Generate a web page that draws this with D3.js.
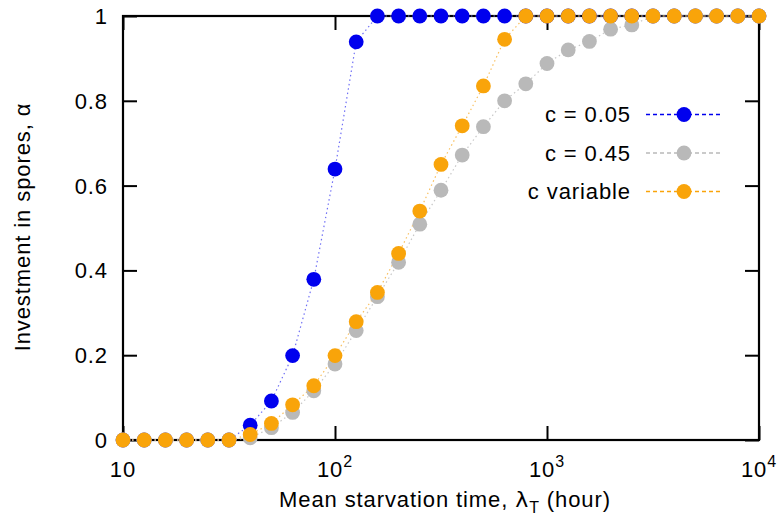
<!DOCTYPE html>
<html>
<head>
<meta charset="utf-8">
<script src="https://cdn.jsdelivr.net/npm/d3@7"></script>
<style>
  body { margin: 0; background: #fff; }
  text { font-family: "Liberation Sans", Arial, sans-serif; fill: #000; letter-spacing: 0.9px; }
</style>
</head>
<body>
<div id="chart"></div>
<script>
// exponent step k -> lambda = 10^(1 + k/10), k = 0..30
const steps = d3.range(0, 31);
const lambdas = steps.map(k => Math.pow(10, 1 + k / 10));

const alphaLow = [0, 0, 0, 0, 0, 0, 0.035, 0.092, 0.199, 0.379, 0.639, 0.939,
  1, 1, 1, 1, 1, 1, 1, 1, 1, 1, 1, 1, 1, 1, 1, 1, 1, 1, 1];
const alphaHigh = [0, 0, 0, 0, 0, 0, 0.005, 0.029, 0.065, 0.116, 0.179, 0.258,
  0.338, 0.419, 0.509, 0.589, 0.672, 0.739, 0.80, 0.84, 0.888, 0.92, 0.94,
  0.969, 0.979, 1, 1, 1, 1, 1, 1];
const alphaVar = [0, 0, 0, 0, 0, 0, 0.013, 0.039, 0.083, 0.128, 0.199, 0.279,
  0.348, 0.44, 0.54, 0.65, 0.741, 0.835, 0.945, 1, 1, 1, 1, 1, 1, 1, 1, 1, 1, 1, 1];

const seriesNames = ["c = 0.05", "c = 0.45", "c variable"];
const seriesColors = ["#0000ee", "#b9b9b9", "#f9a40a"];
const lineColors = ["#6f6ff5", "#c8c8c8", "#f9c060"];

const yTicks = [0, 0.2, 0.4, 0.6, 0.8, 1];
const xTicks = [10, 100, 1000, 10000];

const margin = {top: 16, right: 19, bottom: 82, left: 123};
const width = 778 - margin.left - margin.right,
      height = 522 - margin.top - margin.bottom;

const svg = d3.select("#chart").append("svg")
    .attr("width", 778).attr("height", 522)
  .append("g")
    .attr("transform", `translate(${margin.left},${margin.top})`);

const x = d3.scaleLog().domain([10, 10000]).range([0, width]);
const y = d3.scaleLinear().domain([0, 1]).range([height, 0]);

// ticks, pointing inward, on all four sides
const tickLen = 14;
svg.append("g").call(d3.axisLeft(y).tickValues(yTicks).tickSize(-tickLen).tickFormat(""))
  .call(g => g.select(".domain").remove());
svg.append("g").attr("transform", `translate(${width},0)`)
  .call(d3.axisRight(y).tickValues(yTicks).tickSize(-tickLen).tickFormat(""))
  .call(g => g.select(".domain").remove());
svg.append("g").attr("transform", `translate(0,${height})`)
  .call(d3.axisBottom(x).tickValues(xTicks).tickSize(-tickLen).tickFormat(""))
  .call(g => g.select(".domain").remove());
svg.append("g")
  .call(d3.axisTop(x).tickValues(xTicks).tickSize(-tickLen).tickFormat(""))
  .call(g => g.select(".domain").remove());
svg.selectAll(".tick line").attr("stroke", "#000").attr("stroke-width", 2);

svg.append("rect")
  .attr("width", width).attr("height", height)
  .attr("fill", "none").attr("stroke", "#000").attr("stroke-width", 2.2);

// tick labels
svg.append("g").selectAll("text").data(yTicks).join("text")
  .attr("x", -15).attr("y", d => y(d)).attr("dy", "0.36em")
  .attr("text-anchor", "end").attr("font-size", 22)
  .text(d => d3.format("~g")(d));

const xl = svg.append("g").selectAll("text").data(xTicks).join("text")
  .attr("x", d => x(d)).attr("y", height + 37)
  .attr("text-anchor", "middle").attr("font-size", 22);
xl.each(function(d) {
  const t = d3.select(this);
  const e = Math.round(Math.log10(d));
  if (e === 1) { t.text("10"); return; }
  t.append("tspan").text("10");
  t.append("tspan").attr("dy", -10).attr("font-size", 16).text(e);
});

// axis titles
const xt = svg.append("text")
  .attr("x", width / 2 + 4).attr("y", height + 67)
  .attr("text-anchor", "middle").attr("font-size", 22);
xt.append("tspan").text("Mean starvation time, ");
xt.append("tspan").attr("font-family", "DejaVu Sans").text("λ");
xt.append("tspan").attr("dy", 6).attr("font-size", 16).text("T");
xt.append("tspan").attr("dy", -6).text(" (hour)");

svg.append("text")
  .attr("transform", `translate(${-93},${height / 2 - 1}) rotate(-90)`)
  .attr("text-anchor", "middle").attr("font-size", 22)
  .text("Investment in spores, α");

// series
const allSeries = [alphaLow, alphaHigh, alphaVar];
const line = d3.line().x(d => x(d[0])).y(d => y(d[1]));

allSeries.forEach((vals, i) => {
  const pts = lambdas.map((l, j) => [l, vals[j]]);
  svg.append("path").datum(pts)
    .attr("fill", "none").attr("stroke", lineColors[i])
    .attr("stroke-width", 1.2).attr("stroke-dasharray", "1.5,3")
    .attr("d", line);
});
allSeries.forEach((vals, i) => {
  const pts = lambdas.map((l, j) => [l, vals[j]]);
  svg.append("g").selectAll("circle").data(pts).join("circle")
    .attr("cx", d => x(d[0])).attr("cy", d => y(d[1]))
    .attr("r", 7.4).attr("fill", seriesColors[i]);
});

// legend
const leg = svg.append("g");
seriesNames.forEach((name, i) => {
  const ly = 98.5 + i * 38.5;
  leg.append("text").attr("x", 508).attr("y", ly).attr("dy", "0.36em")
    .attr("text-anchor", "end").attr("font-size", 22).text(name);
  leg.append("line").attr("x1", 523).attr("x2", 598).attr("y1", ly).attr("y2", ly)
    .attr("stroke", seriesColors[i]).attr("stroke-width", 1.6)
    .attr("stroke-dasharray", "4,3");
  leg.append("circle").attr("cx", 561).attr("cy", ly).attr("r", 7.4)
    .attr("fill", seriesColors[i]);
});
</script>
</body>
</html>
